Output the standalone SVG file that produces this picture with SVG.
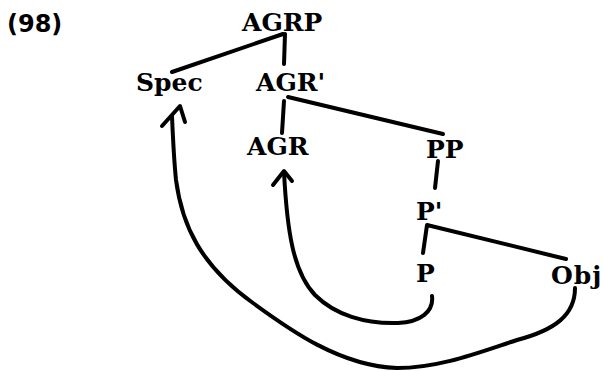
<svg xmlns="http://www.w3.org/2000/svg" width="604" height="371" viewBox="0 0 604 371">
<style>
.lbl{font-family:"DejaVu Serif",serif;font-weight:bold;font-size:25px;fill:#000}
.num{font-family:"DejaVu Sans",sans-serif;font-weight:bold;font-size:24px;fill:#000}
.e{fill:none;stroke:#000;stroke-width:4;stroke-linecap:round;stroke-linejoin:round}
</style>
<rect width="604" height="371" fill="#fff"/>
<text class="num" x="7" y="32">(98)</text>
<g id="connectors">
<path class="e" d="M283,34 L172,72"/>
<path class="e" d="M285,34 L284,64"/>
<path class="e" d="M284,101 L282,133"/>
<path class="e" d="M288,97 L443,134"/>
<path class="e" d="M438,161 L435,188"/>
<path class="e" d="M423,253 L427,225 L566,259"/>
<path class="e" d="M432,296 C434,312 420,322 398,323 C365,324 335,315 315,295 C293,272 287,230 284,172"/>
<path class="e" d="M273,185 L284,171 L292,181"/>
<path class="e" d="M575,288 C575,315 555,330 517,340 C480,352 440,368 397,368 C340,366 290,330 253,303 C200,265 182,225 176,180 C174,160 173,140 172,116"/>
<path class="e" d="M162,126 L180,106 L185,122"/>
</g>
<g id="n-agrp"><text class="lbl" x="242" y="31">AGRP</text></g>
<g id="n-spec"><text class="lbl" x="136" y="91">Spec</text></g>
<g id="n-agrbar"><text class="lbl" x="256" y="91">AGR'</text></g>
<g id="n-agr"><text class="lbl" x="247" y="155">AGR</text></g>
<g id="n-pp"><text class="lbl" x="426" y="158">PP</text></g>
<g id="n-pbar"><text class="lbl" x="416" y="220">P'</text></g>
<g id="n-p"><text class="lbl" x="416" y="282">P</text></g>
<g id="n-obj"><text class="lbl" x="551" y="284" letter-spacing="1">Obj</text></g>
</svg>
